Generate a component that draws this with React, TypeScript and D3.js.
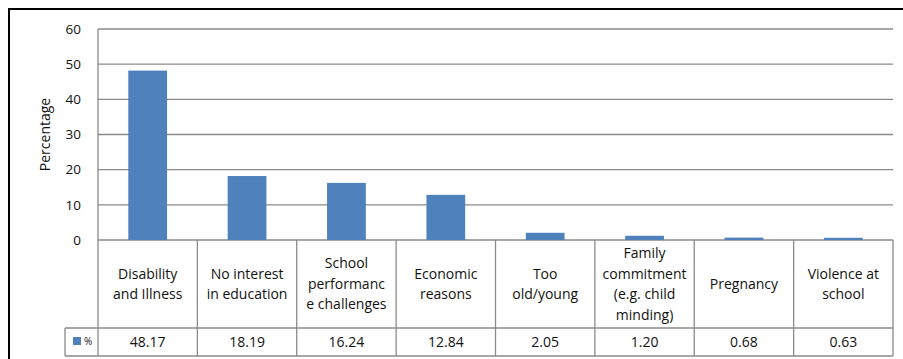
import React from "react";
import * as d3 from "d3";

const categories: string[][] = [
  ["Disability", "and Illness"],
  ["No interest", "in education"],
  ["School", "performanc", "e challenges"],
  ["Economic", "reasons"],
  ["Too", "old/young"],
  ["Family", "commitment", "(e.g. child", "minding)"],
  ["Pregnancy"],
  ["Violence at", "school"],
];
const values: number[] = [48.17, 18.19, 16.24, 12.84, 2.05, 1.2, 0.68, 0.63];
const valueLabels: string[] = ["48.17", "18.19", "16.24", "12.84", "2.05", "1.20", "0.68", "0.63"];
const yTicks: number[] = [0, 10, 20, 30, 40, 50, 60];
const seriesName = "%";
const yTitle = "Percentage";

const W = 903;
const H = 359;
const left = 98;
const right = 893;
const top = 29;
const zeroY = 240;
const catRowBottom = 328;
const tableBottom = 356;
const legendLeft = 65;

const FONT = "'Open Sans', sans-serif";
const BAR = "#4F81BD";
const GRID = "#8a8a8a";
const TEXT = "#111";

export default function App() {
  const keys = categories.map((_, i) => String(i));
  const x = d3.scaleBand<string>().domain(keys).range([left, right]).paddingInner(0).paddingOuter(0);
  const y = d3.scaleLinear().domain([0, 60]).range([zeroY, top]);
  const bw = x.bandwidth() * 0.39;
  const lineH = 20.5;
  const catMid = (zeroY + catRowBottom) / 2;

  return (
    <svg width={W} height={H} style={{ position: "absolute", left: 0, top: 0, display: "block" }}>
      <rect x={0} y={0} width={W} height={H} fill="#fff" />
      {/* outer frame */}
      <path d={`M9,${H + 5} L9,9 L${W + 5},9`} fill="none" stroke="#000" strokeWidth={2} />

      {/* gridlines */}
      {yTicks.map((t) => (
        <line key={t} x1={left} x2={right} y1={y(t)} y2={y(t)} stroke={GRID} strokeWidth={1.3} />
      ))}
      {/* y tick labels */}
      {yTicks.map((t) => (
        <text key={"l" + t} x={81} y={y(t)} dy="0.35em" textAnchor="end" fontFamily={FONT} fontSize={13.5} fill={TEXT}>
          {t}
        </text>
      ))}
      <text
        transform={`translate(45,${(top + zeroY) / 2}) rotate(-90)`}
        textAnchor="middle"
        dy="0.35em"
        fontFamily={FONT}
        fontSize={14}
        fill={TEXT}
      >
        {yTitle}
      </text>

      {/* bars */}
      {values.map((v, i) => {
        const cx = (x(String(i)) as number) + x.bandwidth() / 2;
        return <rect key={i} x={cx - bw / 2} y={y(v)} width={bw} height={zeroY - y(v)} fill={BAR} />;
      })}

      {/* data table */}
      <g stroke={GRID} strokeWidth={1.3} fill="none">
        <line x1={left} x2={left} y1={top} y2={tableBottom} />
        <line x1={right} x2={right} y1={zeroY} y2={tableBottom} />
        {keys.slice(1).map((k) => (
          <line key={k} x1={x(k)} x2={x(k)} y1={zeroY} y2={tableBottom} />
        ))}
        <line x1={legendLeft} x2={right} y1={catRowBottom} y2={catRowBottom} />
        <line x1={legendLeft} x2={right} y1={tableBottom} y2={tableBottom} />
        <line x1={legendLeft} x2={legendLeft} y1={catRowBottom} y2={tableBottom} />
      </g>
      {categories.map((lines, i) => {
        const cx = (x(String(i)) as number) + x.bandwidth() / 2;
        const start = catMid - ((lines.length - 1) * lineH) / 2;
        return (
          <text key={i} textAnchor="middle" fontFamily={FONT} fontSize={14} fill={TEXT}>
            {lines.map((ln, j) => (
              <tspan key={j} x={cx} y={start + j * lineH} dy="0.35em">
                {ln}
              </tspan>
            ))}
          </text>
        );
      })}
      {valueLabels.map((s, i) => {
        const cx = (x(String(i)) as number) + x.bandwidth() / 2;
        return (
          <text key={i} x={cx} y={(catRowBottom + tableBottom) / 2} dy="0.35em" textAnchor="middle" fontFamily={FONT} fontSize={14} fill={TEXT}>
            {s}
          </text>
        );
      })}
      {/* legend key */}
      <rect x={73} y={337} width={8} height={8} fill={BAR} />
      <text x={84} y={341} dy="0.35em" fontFamily={FONT} fontSize={10} fill={TEXT}>
        {seriesName}
      </text>
    </svg>
  );
}
